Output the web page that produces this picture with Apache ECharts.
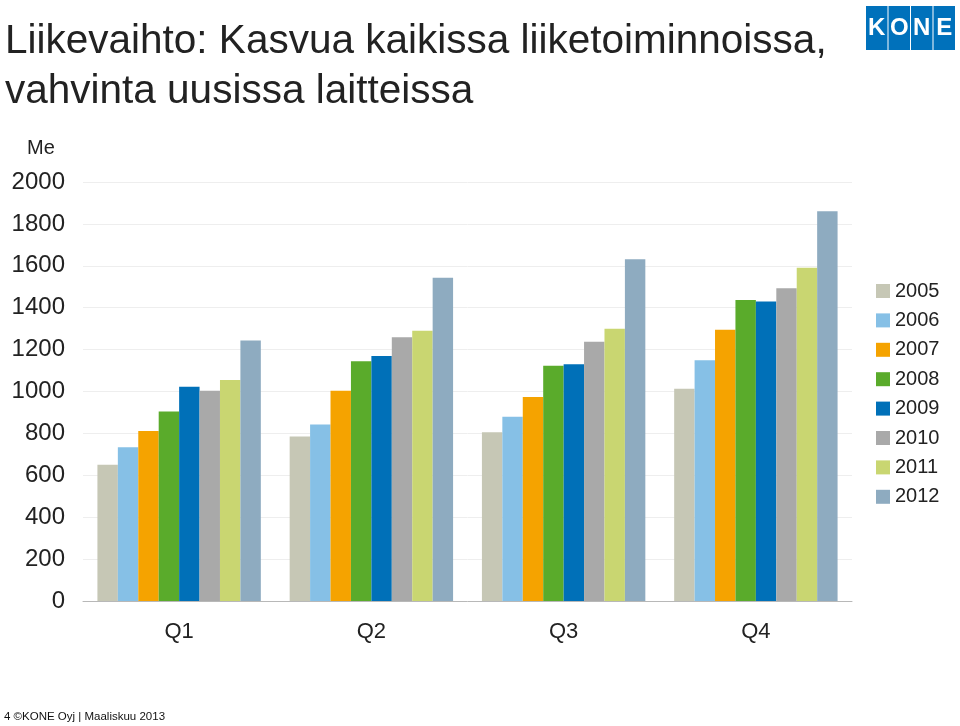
<!DOCTYPE html>
<html>
<head>
<meta charset="utf-8">
<script src="https://cdn.jsdelivr.net/npm/echarts@6/dist/echarts.min.js"></script>
<style>
  html, body { margin: 0; padding: 0; background: #fff; }
  #main { width: 960px; height: 726px; }
</style>
</head>
<body>
<div id="main"></div>
<script>
var quarters = ['Q1', 'Q2', 'Q3', 'Q4'];
var years = ['2005', '2006', '2007', '2008', '2009', '2010', '2011', '2012'];
var colors = ['#c6c7b5', '#86c0e6', '#f5a300', '#5aab2b', '#0070b8', '#a9a9a9', '#c9d671', '#8eabc0'];
// liikevaihto per vuosi, Q1..Q4 (Me)
var v2005 = [650, 785, 805, 1013];
var v2006 = [734, 843, 880, 1149];
var v2007 = [811, 1004, 974, 1295];
var v2008 = [905, 1144, 1123, 1437];
var v2009 = [1023, 1169, 1130, 1429];
var v2010 = [1004, 1259, 1238, 1493];
var v2011 = [1055, 1290, 1300, 1591];
var v2012 = [1243, 1543, 1631, 1860];
var values = [v2005, v2006, v2007, v2008, v2009, v2010, v2011, v2012];

var chartDom = document.getElementById('main');
var myChart = echarts.init(chartDom);
var font = 'Liberation Sans, Arial, sans-serif';

var series = years.map(function (y, i) {
    return {
        name: y,
        type: 'bar',
        data: values[i],
        barGap: 0,
        barCategoryGap: '15%',
        itemStyle: { color: colors[i] }
    };
});

var logoLetters = ['K', 'O', 'N', 'E'];
var logo = [];
logoLetters.forEach(function (l, i) {
    logo.push({
        type: 'rect',
        shape: { x: 866 + i * 22.5, y: 6, width: 21.5, height: 44 },
        style: { fill: '#0071bb' }
    });
    logo.push({
        type: 'text',
        x: 866 + i * 22.5 + 10.75,
        y: 28,
        style: {
            text: l, fill: '#fff', font: 'bold 24px ' + font,
            align: 'center', verticalAlign: 'middle'
        }
    });
});

var option = {
    animation: false,
    color: colors,
    title: {
        text: 'Liikevaihto: Kasvua kaikissa liiketoiminnoissa,\nvahvinta uusissa laitteissa',
        left: 0,
        top: 12,
        textStyle: {
            fontFamily: font, fontSize: 40.5, fontWeight: 'normal',
            color: '#222', lineHeight: 50
        }
    },
    legend: {
        orient: 'vertical',
        left: 871,
        top: 276,
        icon: 'rect',
        itemWidth: 14,
        itemHeight: 14,
        itemGap: 9.4,
        textStyle: { fontFamily: font, fontSize: 20, color: '#222', lineHeight: 20 }
    },
    grid: { left: 83, right: 108, top: 182, bottom: 125 },
    xAxis: {
        type: 'category',
        data: quarters,
        axisLine: { lineStyle: { color: '#b8b8b8' } },
        axisTick: { length: 6, lineStyle: { color: '#b8b8b8' } },
        axisLabel: { fontFamily: font, fontSize: 22, color: '#222', margin: 20 }
    },
    yAxis: {
        type: 'value',
        min: 0,
        max: 2000,
        interval: 200,
        name: 'Me',
        nameGap: 24,
        nameTextStyle: { fontFamily: font, fontSize: 20, color: '#222', align: 'center', padding: [0, 0, 0, -84] },
        axisLine: { show: false },
        axisTick: { show: false },
        splitLine: { lineStyle: { color: '#eeeeee' } },
        axisLabel: {
            fontFamily: font, fontSize: 24, color: '#222', margin: 18,
            formatter: function (v) { return String(v); }
        }
    },
    series: series,
    graphic: logo.concat([{
        type: 'text',
        left: 4,
        top: 711,
        style: { text: '4 ©KONE Oyj | Maaliskuu 2013', font: '11.5px ' + font, fill: '#111' }
    }])
};

myChart.setOption(option);
</script>
</body>
</html>
